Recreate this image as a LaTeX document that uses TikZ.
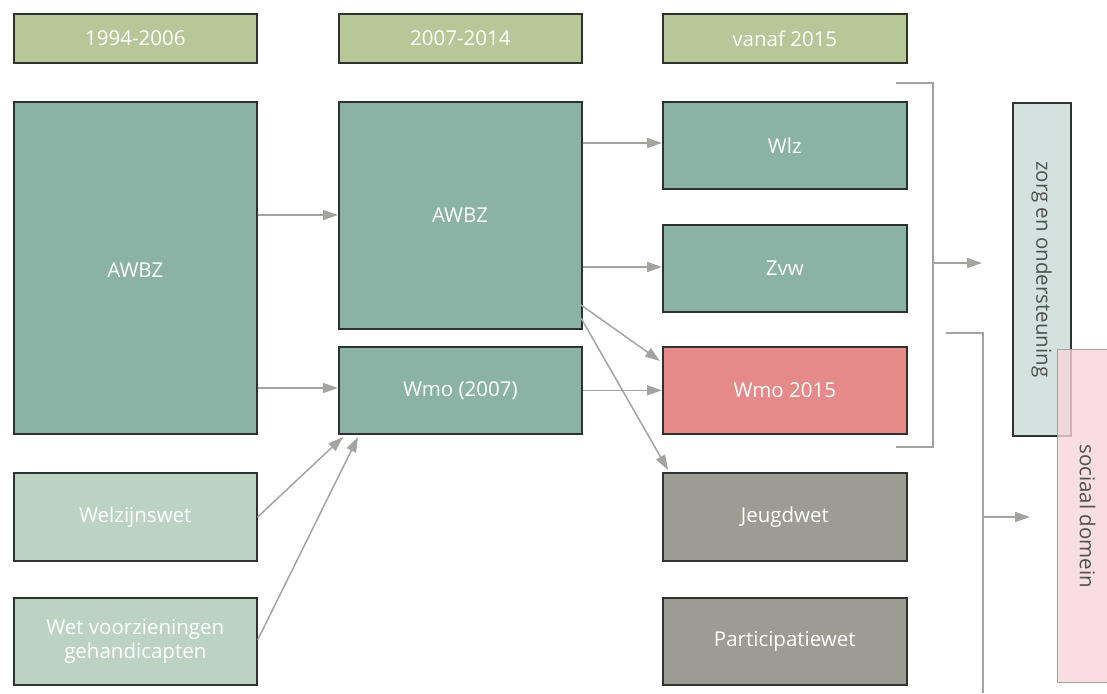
\documentclass[tikz,border=0pt]{standalone}
\usepackage{fontspec}
\setmainfont{Open Sans}
\usetikzlibrary{arrows.meta}
\definecolor{hdr}{HTML}{B7C798}
\definecolor{teal}{HTML}{8BB3A5}
\definecolor{lgreen}{HTML}{BCD3C4}
\definecolor{wred}{HTML}{E58A89}
\definecolor{wgrey}{HTML}{9C9B94}
\definecolor{zorgc}{HTML}{D3E2DF}
\definecolor{socc}{HTML}{F6D5DB}
\definecolor{linec}{HTML}{A3A49F}
\definecolor{edgec}{HTML}{2E3330}
\tikzset{
  lbl/.style={font=\fontsize{20.5}{24.5}\selectfont},
  law/.style={draw=edgec, line width=1.6pt, text=white, lbl, align=center, inner sep=0pt},
  conn/.style={draw=linec, line width=1.5pt, -{Triangle[length=15pt,width=10pt]}},
  brk/.style={draw=linec, line width=1.3pt}
}
\begin{document}
\begin{tikzpicture}[x=1pt,y=-1pt]
\useasboundingbox (0,0) rectangle (1107,693);
% headers
\node[law, fill=hdr, minimum width=243pt, minimum height=49pt, anchor=north west] (h1) at (13,13) {1994-2006};
\node[law, fill=hdr, minimum width=243pt, minimum height=49pt, anchor=north west] (h2) at (338,13) {2007-2014};
\node[law, fill=hdr, minimum width=244pt, minimum height=49pt, anchor=north west] (h3) at (662,13) {vanaf 2015};
% first period
\node[law, fill=teal, minimum width=243pt, minimum height=332pt, anchor=north west] (awbz1) at (13,101) {};
\node (t1) at (awbz1.center) [text=white, lbl, yshift=-2pt] {AWBZ};
\node[law, fill=lgreen, minimum width=243pt, minimum height=88pt, anchor=north west] (welz) at (13,472) {Welzijnswet};
\node[law, fill=lgreen, minimum width=243pt, minimum height=87pt, anchor=north west] (wvg) at (13,597) {Wet voorzieningen\\gehandicapten};
% second period
\node[law, fill=teal, minimum width=243pt, minimum height=227pt, anchor=north west] (awbz2) at (338,101) {};
\node (t2) at (460,215) [text=white, lbl] {AWBZ};
\node[law, fill=teal, minimum width=243pt, minimum height=87pt, anchor=north west] (wmo7) at (338,346) {Wmo (2007)};
% third period
\node[law, fill=teal, minimum width=244pt, minimum height=87pt, anchor=north west] (wlz) at (662,101) {Wlz};
\node[law, fill=teal, minimum width=244pt, minimum height=87pt, anchor=north west] (zvw) at (662,224) {Zvw};
\node[law, fill=wred, minimum width=244pt, minimum height=87pt, anchor=north west] (wmo15) at (662,346) {Wmo 2015};
\node[law, fill=wgrey, minimum width=244pt, minimum height=88pt, anchor=north west] (jeugd) at (662,472) {Jeugdwet};
\node[law, fill=wgrey, minimum width=244pt, minimum height=87pt, anchor=north west] (part) at (662,597) {Participatiewet};
% domains
\node[draw=edgec, line width=1.6pt, fill=zorgc, minimum width=58pt, minimum height=333pt, anchor=north west, inner sep=0pt] (zorg) at (1012,102) {};
\node (t3) [rotate=-90, text=edgec!85, lbl] at (zorg.center) {zorg en ondersteuning};
\node[draw=linec, line width=1.2pt, fill=socc, fill opacity=0.8, minimum width=60pt, minimum height=333pt, anchor=north west, inner sep=0pt] (soc) at (1057,349) {};
\node (t4) [rotate=-90, text=edgec!85, lbl] at (soc.center) {sociaal domein};
% arrows from first to second period
\draw[conn] (awbz1.east |- 0,215) -- (awbz2.west |- 0,215);
\draw[conn] (awbz1.east |- 0,388) -- (wmo7.west |- 0,388);
\draw[conn] (welz.east |- 0,517) -- (343,437);
\draw[conn] (wvg.east |- 0,640) -- (358,437);
% arrows from second to third period
\draw[conn] (awbz2.east |- 0,143) -- (wlz.west |- 0,143);
\draw[conn] (awbz2.east |- 0,267) -- (zvw.west |- 0,267);
\draw[conn] (581,305) -- (660,361);
\draw[conn] (581,318) -- (668,470);
\draw[conn] (wmo7.east) -- (wmo15.west |- wmo7.east);
% brackets
\coordinate (b1t) at (896,83);
\coordinate (b1b) at (896,447);
\draw[brk] (b1t) -- (933,83) -- (933,447) -- (b1b);
\coordinate (z1) at (982,263);
\draw[conn] (933,263) -- (z1);
\coordinate (b2t) at (946,333);
\coordinate (b2b) at (983,693);
\draw[brk] (b2t) -- (983,333) -- (b2b);
\coordinate (z2) at (1030,517);
\draw[conn] (983,517) -- (z2);
\end{tikzpicture}
\end{document}
